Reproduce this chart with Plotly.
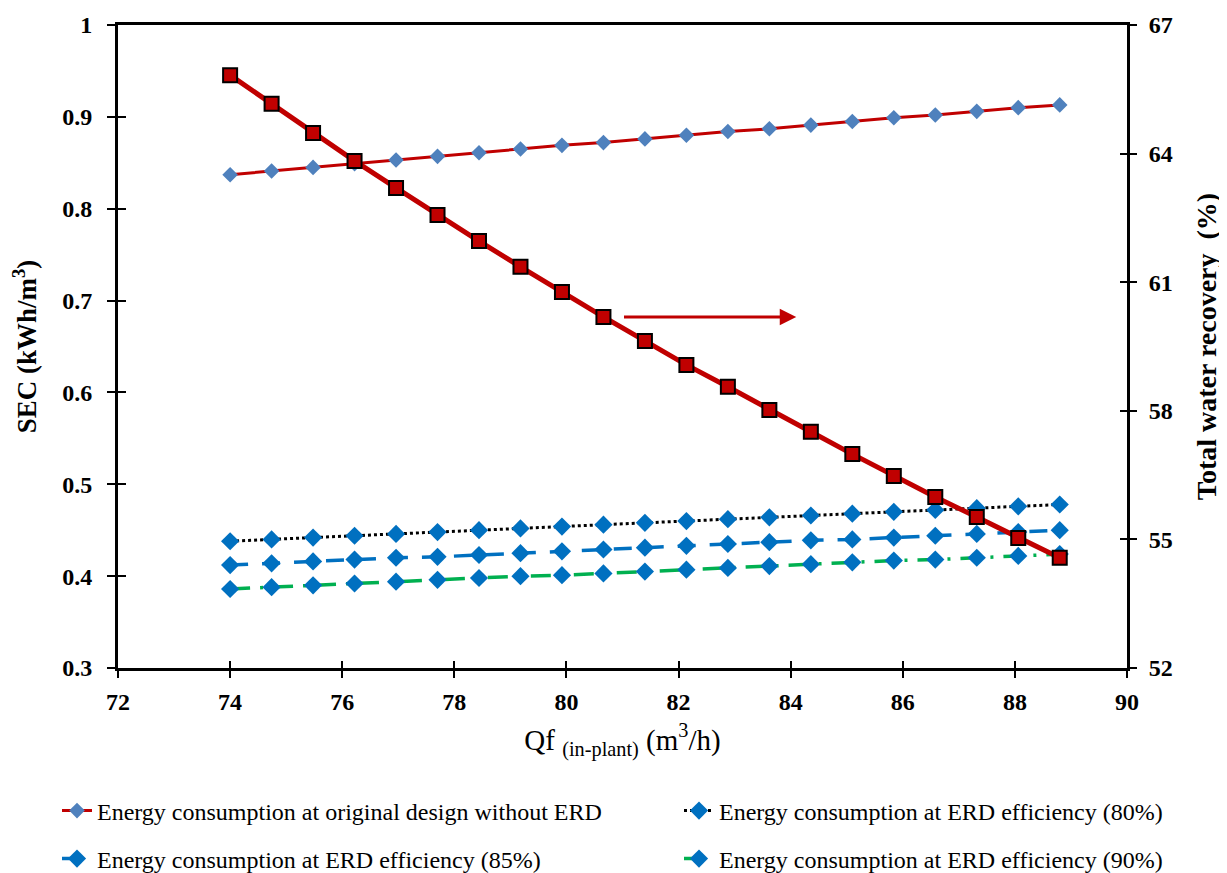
import plotly.graph_objects as go

qf = [74.0, 74.74, 75.48, 76.22, 76.96, 77.7, 78.44, 79.18, 79.92, 80.66, 81.4,
      82.14, 82.88, 83.62, 84.36, 85.1, 85.84, 86.58, 87.32, 88.06, 88.8]
recovery = [65.83, 65.16, 64.48, 63.83, 63.20, 62.57, 61.96, 61.36, 60.77, 60.19, 59.63,
            59.07, 58.56, 58.02, 57.51, 56.99, 56.48, 55.99, 55.52, 55.03, 54.57]
sec_original = [0.837, 0.841, 0.845, 0.849, 0.853, 0.857, 0.861, 0.865, 0.869, 0.872, 0.876,
                0.880, 0.884, 0.887, 0.891, 0.895, 0.899, 0.902, 0.906, 0.910, 0.913]
sec_erd80 = [0.438, 0.440, 0.442, 0.444, 0.446, 0.448, 0.450, 0.452, 0.454, 0.456, 0.458,
             0.460, 0.462, 0.464, 0.466, 0.468, 0.470, 0.472, 0.474, 0.476, 0.478]
sec_erd85 = [0.412, 0.414, 0.416, 0.418, 0.420, 0.421, 0.423, 0.425, 0.427, 0.429, 0.431,
             0.433, 0.435, 0.437, 0.439, 0.440, 0.442, 0.444, 0.446, 0.448, 0.450]
sec_erd90 = [0.386, 0.388, 0.390, 0.392, 0.394, 0.396, 0.398, 0.400, 0.401, 0.403, 0.405,
             0.407, 0.409, 0.411, 0.413, 0.415, 0.417, 0.418, 0.420, 0.422, 0.424]

names = ["Energy consumption at original design without ERD",
         "Energy consumption at ERD efficiency (80%)",
         "Energy consumption at ERD efficiency (85%)",
         "Energy consumption at ERD efficiency (90%)"]

RED = "#C00000"
BLUE = "#0070C0"
STEEL = "#4F81BD"
GREEN = "#00B050"
FONT = "Liberation Serif, Times New Roman, serif"

fig = go.Figure()

fig.add_trace(go.Scatter(x=qf, y=sec_original, name=names[0], mode="lines+markers",
                         legend="legend",
                         line=dict(color=RED, width=3),
                         marker=dict(symbol="diamond", size=12, color=STEEL)))
fig.add_trace(go.Scatter(x=qf, y=sec_erd80, name=names[1], mode="lines+markers",
                         legend="legend2",
                         line=dict(color="black", width=3, dash="dot"),
                         marker=dict(symbol="diamond", size=14, color=BLUE)))
fig.add_trace(go.Scatter(x=qf, y=sec_erd85, name=names[2], mode="lines+markers",
                         legend="legend3",
                         line=dict(color=BLUE, width=3.5, dash="18px,14px"),
                         marker=dict(symbol="diamond", size=14, color=BLUE)))
fig.add_trace(go.Scatter(x=qf, y=sec_erd90, name=names[3], mode="lines+markers",
                         legend="legend4",
                         line=dict(color=GREEN, width=3.5, dash="20px,10px,3px,10px"),
                         marker=dict(symbol="diamond", size=14, color=BLUE)))
fig.add_trace(go.Scatter(x=qf, y=recovery, name="Total water recovery", yaxis="y2",
                         mode="lines+markers", showlegend=False,
                         line=dict(color=RED, width=5),
                         marker=dict(symbol="square", size=14, color=RED,
                                     line=dict(color="black", width=2))))
# invisible traces hosting the inside-tick overlay axes
fig.add_trace(go.Scatter(x=[qf[0]], y=[sec_original[0]], xaxis="x2", yaxis="y3",
                         mode="markers", marker=dict(opacity=0), showlegend=False,
                         hoverinfo="skip"))
fig.add_trace(go.Scatter(x=[qf[0]], y=[recovery[0]], xaxis="x2", yaxis="y4",
                         mode="markers", marker=dict(opacity=0), showlegend=False,
                         hoverinfo="skip"))

tickfont = dict(family=FONT, size=24, color="black", weight="bold")
legfont = dict(family=FONT, size=24, color="black")


def leg(xpx, ypx):
    return dict(orientation="h", xref="container", yref="container",
                x=xpx / 1227, xanchor="left", y=1 - ypx / 873, yanchor="middle",
                font=legfont, bgcolor="rgba(0,0,0,0)")


fig.update_layout(
    width=1227, height=873,
    margin=dict(l=110, r=108, t=17, b=213, autoexpand=False),
    plot_bgcolor="white", paper_bgcolor="white",
    font=dict(family=FONT, color="black"),
    xaxis=dict(range=[72, 90], tick0=72, dtick=2, showgrid=False, zeroline=False,
               showline=True, linecolor="black", linewidth=3, mirror=True,
               ticks="outside", ticklen=7, tickwidth=2, tickcolor="black",
               tickfont=tickfont, ticklabelstandoff=3,
               title=dict(text="Qf <sub>(in-plant)</sub> (m<sup>3</sup>/h)",
                          font=dict(family=FONT, size=29), standoff=16)),
    yaxis=dict(range=[0.3, 1.0], tick0=0.3, dtick=0.1, showgrid=False, zeroline=False,
               showline=True, linecolor="black", linewidth=3,
               ticks="outside", ticklen=8, tickwidth=2, tickcolor="black",
               tickfont=tickfont, ticklabelstandoff=10,
               title=dict(text="<b>SEC (kWh/m<sup>3</sup>)</b>",
                          font=dict(family=FONT, size=27), standoff=18)),
    yaxis2=dict(range=[52, 67], tick0=52, dtick=3, overlaying="y", side="right",
                showgrid=False, zeroline=False,
                showline=True, linecolor="black", linewidth=3,
                ticks="outside", ticklen=7, tickwidth=2, tickcolor="black",
                tickfont=tickfont, ticklabelstandoff=7,
                title=dict(text="<b>Total water recovery  (%)</b>",
                           font=dict(family=FONT, size=28), standoff=25)),
    xaxis2=dict(range=[72, 90], tick0=72, dtick=2, overlaying="x", side="bottom",
                showgrid=False, zeroline=False, showline=False,
                ticks="inside", ticklen=7, tickwidth=2, tickcolor="black",
                showticklabels=False),
    yaxis3=dict(range=[0.3, 1.0], tick0=0.3, dtick=0.1, overlaying="y", side="left",
                showgrid=False, zeroline=False, showline=False,
                ticks="inside", ticklen=8, tickwidth=2, tickcolor="black",
                showticklabels=False),
    yaxis4=dict(range=[52, 67], tick0=52, dtick=3, overlaying="y", side="right",
                showgrid=False, zeroline=False, showline=False,
                ticks="inside", ticklen=7, tickwidth=2, tickcolor="black",
                showticklabels=False),
    legend=leg(49, 803),
    legend2=leg(671, 803),
    legend3=leg(49, 851),
    legend4=leg(671, 851),
    showlegend=True,
)

fig.add_annotation(x=84.1, y=0.682, ax=81.0, ay=0.682, xref="x", yref="y",
                   axref="x", ayref="y", text="", showarrow=True,
                   arrowhead=2, arrowsize=1.1, arrowwidth=3, arrowcolor=RED)

fig.write_html("out.html")
